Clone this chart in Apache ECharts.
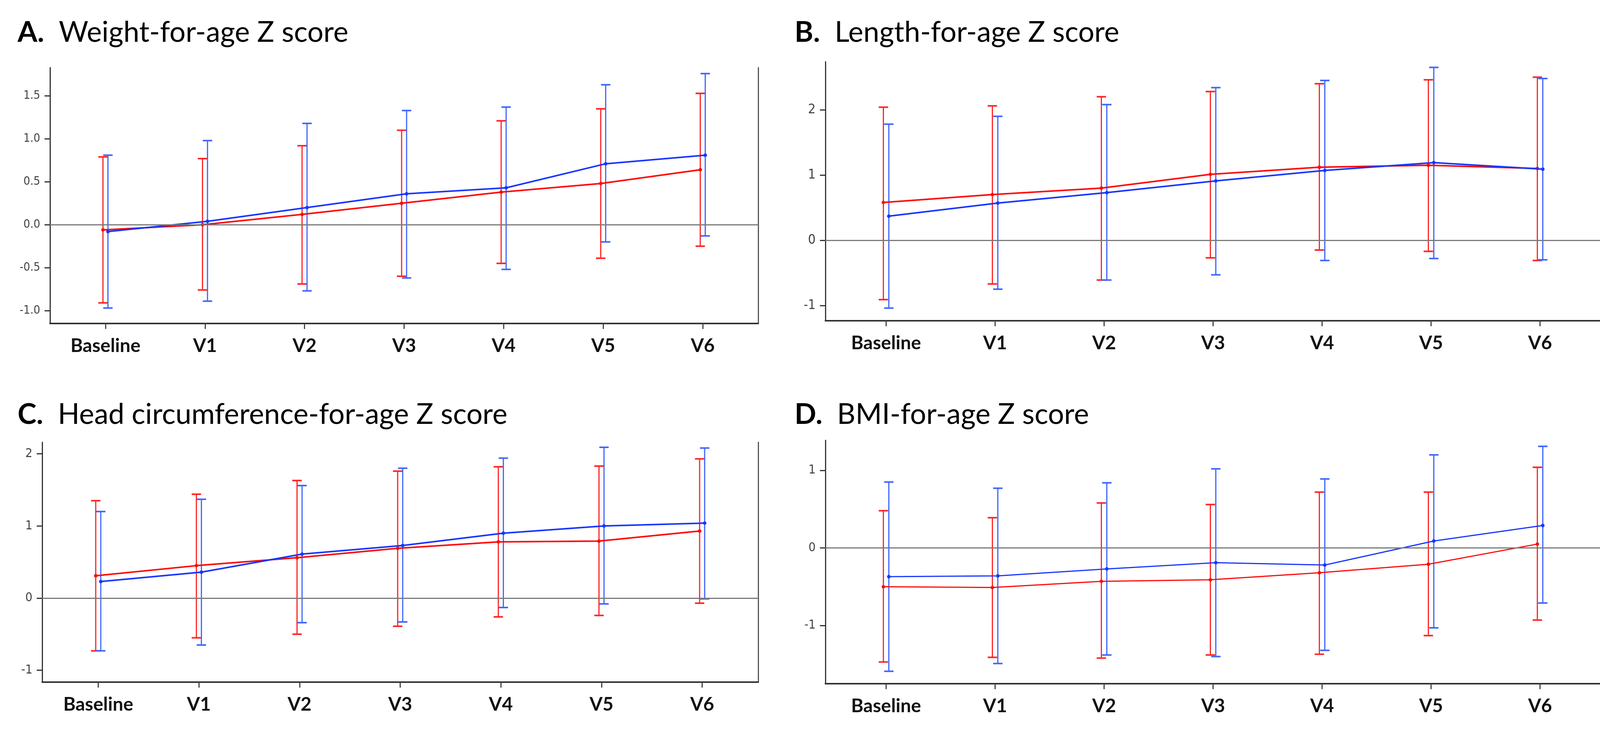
<!DOCTYPE html>
<html>
<head>
<meta charset="utf-8">
<script src="https://cdn.jsdelivr.net/npm/echarts@6/dist/echarts.min.js"></script>
<style>
html,body{margin:0;padding:0;background:#fff;}
#chart{width:4146px;height:1889px;}
</style>
</head>
<body>
<div id="chart"></div>
<script>
// ---------- data ----------
const categories = ['Baseline', 'V1', 'V2', 'V3', 'V4', 'V5', 'V6'];

// A. Weight-for-age Z score
const aRedMean  = [-0.06, 0.00, 0.12, 0.25, 0.38, 0.48, 0.64];
const aRedLow   = [-0.91, -0.76, -0.69, -0.60, -0.45, -0.39, -0.25];
const aRedHigh  = [0.79, 0.77, 0.92, 1.10, 1.21, 1.35, 1.53];
const aBlueMean = [-0.08, 0.04, 0.20, 0.36, 0.43, 0.71, 0.81];
const aBlueLow  = [-0.97, -0.89, -0.77, -0.62, -0.52, -0.20, -0.13];
const aBlueHigh = [0.81, 0.98, 1.18, 1.33, 1.37, 1.63, 1.76];
const aTicks    = [-1, -0.5, 0, 0.5, 1, 1.5];

// B. Length-for-age Z score
const bRedMean  = [0.58, 0.70, 0.80, 1.01, 1.12, 1.15, 1.10];
const bRedLow   = [-0.91, -0.67, -0.61, -0.27, -0.15, -0.17, -0.31];
const bRedHigh  = [2.04, 2.06, 2.20, 2.28, 2.40, 2.46, 2.50];
const bBlueMean = [0.37, 0.57, 0.73, 0.91, 1.07, 1.19, 1.09];
const bBlueLow  = [-1.04, -0.75, -0.61, -0.53, -0.31, -0.28, -0.30];
const bBlueHigh = [1.78, 1.90, 2.08, 2.34, 2.45, 2.65, 2.48];
const bTicks    = [-1, 0, 1, 2];

// C. Head circumference-for-age Z score
const cRedMean  = [0.31, 0.45, 0.56, 0.69, 0.78, 0.79, 0.93];
const cRedLow   = [-0.73, -0.55, -0.50, -0.39, -0.26, -0.24, -0.07];
const cRedHigh  = [1.35, 1.44, 1.63, 1.76, 1.82, 1.83, 1.93];
const cBlueMean = [0.23, 0.36, 0.61, 0.73, 0.90, 1.00, 1.04];
const cBlueLow  = [-0.73, -0.65, -0.34, -0.33, -0.13, -0.08, -0.01];
const cBlueHigh = [1.20, 1.37, 1.56, 1.80, 1.94, 2.09, 2.08];
const cTicks    = [-1, 0, 1, 2];

// D. BMI-for-age Z score
const dRedMean  = [-0.50, -0.51, -0.43, -0.41, -0.32, -0.21, 0.05];
const dRedLow   = [-1.47, -1.41, -1.42, -1.38, -1.37, -1.13, -0.93];
const dRedHigh  = [0.48, 0.39, 0.58, 0.56, 0.72, 0.72, 1.04];
const dBlueMean = [-0.37, -0.36, -0.27, -0.19, -0.22, 0.09, 0.29];
const dBlueLow  = [-1.59, -1.49, -1.38, -1.40, -1.32, -1.03, -0.71];
const dBlueHigh = [0.85, 0.77, 0.84, 1.02, 0.89, 1.20, 1.31];
const dTicks    = [-1, 0, 1];

const titles = [
  ['A.', 'Weight-for-age Z score'],
  ['B.', 'Length-for-age Z score'],
  ['C.', 'Head circumference-for-age Z score'],
  ['D.', 'BMI-for-age Z score']
];

// ---------- layout / style ----------
const RED_BAR = '#ff2424', RED_LINE = '#ff0a0a';
const BLUE_BAR = '#3f66ff', BLUE_LINE = '#1836ff';
const DODGE = 0.025;
const XMIN = -0.557, XMAX = 6.557;
const NARROW = "'Liberation Sans Narrow','DejaVu Sans Condensed',sans-serif";
const TITLE_FONT = "Lato, 'Open Sans', sans-serif";

const panels = [
  {grid: {left: 128, top: 173, width: 1813, height: 655}, yMin: -1.15, yMax: 1.83, ticks: aTicks, dec: 1,
   rm: aRedMean, rl: aRedLow, rh: aRedHigh, bm: aBlueMean, bl: aBlueLow, bh: aBlueHigh, lw: 4,
   title: {left: 40, top: 42}, yFont: 30},
  {grid: {left: 2113, top: 158, width: 1985, height: 663}, yMin: -1.234, yMax: 2.737, ticks: bTicks, dec: 0,
   rm: bRedMean, rl: bRedLow, rh: bRedHigh, bm: bBlueMean, bl: bBlueLow, bh: bBlueHigh, lw: 4,
   title: {left: 2029, top: 42}, yFont: 34},
  {grid: {left: 108, top: 1132, width: 1833, height: 614}, yMin: -1.164, yMax: 2.16, ticks: cTicks, dec: 0,
   rm: cRedMean, rl: cRedLow, rh: cRedHigh, bm: cBlueMean, bl: cBlueLow, bh: cBlueHigh, lw: 4,
   title: {left: 40, top: 1020}, yFont: 32},
  {grid: {left: 2113, top: 1127, width: 1985, height: 623}, yMin: -1.75, yMax: 1.388, ticks: dTicks, dec: 0,
   rm: dRedMean, rl: dRedLow, rh: dRedHigh, bm: dBlueMean, bl: dBlueLow, bh: dBlueHigh, lw: 3,
   title: {left: 2029, top: 1020}, yFont: 32}
];

function errRender(color, lw) {
  return function (params, api) {
    const x = api.value(0);
    const pLo = api.coord([x, api.value(1)]);
    const pHi = api.coord([x, api.value(2)]);
    const cap = 12;
    return {
      type: 'group',
      children: [
        {type: 'line', shape: {x1: pLo[0], y1: pLo[1], x2: pHi[0], y2: pHi[1]}, style: {stroke: color, lineWidth: lw}},
        {type: 'line', shape: {x1: pLo[0] - cap, y1: pLo[1], x2: pLo[0] + cap, y2: pLo[1]}, style: {stroke: color, lineWidth: lw + 1}},
        {type: 'line', shape: {x1: pHi[0] - cap, y1: pHi[1], x2: pHi[0] + cap, y2: pHi[1]}, style: {stroke: color, lineWidth: lw + 1}}
      ]
    };
  };
}

const option = {
  animation: false,
  backgroundColor: '#ffffff',
  title: [], grid: [], xAxis: [], yAxis: [], series: []
};

panels.forEach((p, k) => {
  option.title.push({
    left: p.title.left, top: p.title.top,
    text: '{b|' + titles[k][0] + '}{t|  ' + titles[k][1] + '}',
    textStyle: {
      rich: {
        b: {fontFamily: TITLE_FONT, fontWeight: 'bold', fontSize: 73, color: '#000'},
        t: {fontFamily: TITLE_FONT, fontWeight: 'normal', fontSize: 73, color: '#000'}
      }
    }
  });
  option.grid.push(Object.assign({show: false, containLabel: false, outerBoundsMode: 'none'}, p.grid));
  const xIdx = option.xAxis.length;
  option.xAxis.push({
    type: 'value', gridIndex: k, min: XMIN, max: XMAX,
    splitLine: {show: false},
    axisLine: {show: true, onZero: false, lineStyle: {color: '#333', width: 4}},
    axisTick: {show: true, customValues: categories.map((c, i) => i), length: 14, lineStyle: {color: '#444', width: 3}},
    axisLabel: {
      show: true, customValues: categories.map((c, i) => i), margin: 34,
      formatter: v => categories[Math.round(v)],
      fontFamily: TITLE_FONT, fontWeight: 'bold', fontSize: 48, color: '#111'
    }
  });
  const yIdx = option.yAxis.length;
  option.yAxis.push({
    type: 'value', gridIndex: k, min: p.yMin, max: p.yMax,
    splitLine: {show: false},
    axisLine: {show: true, onZero: false, lineStyle: {color: '#333', width: 3}},
    axisTick: {show: true, customValues: p.ticks, length: 14, lineStyle: {color: '#333', width: 3}},
    axisLabel: {
      show: true, customValues: p.ticks, margin: 25,
      formatter: v => v.toFixed(p.dec),
      fontFamily: NARROW, fontSize: p.yFont, color: '#444'
    }
  });
  // right border
  option.yAxis.push({
    type: 'value', gridIndex: k, position: 'right', min: 0, max: 1,
    splitLine: {show: false}, axisTick: {show: false}, axisLabel: {show: false},
    axisLine: {show: true, onZero: false, lineStyle: {color: '#555', width: 3}}
  });

  const xs = categories.map((c, i) => i);
  option.series.push({
    type: 'custom', xAxisIndex: xIdx, yAxisIndex: yIdx, z: 2,
    renderItem: errRender(RED_BAR, 3), encode: {x: 0, y: [1, 2]},
    data: xs.map(i => [i - DODGE, p.rl[i], p.rh[i]]),
    markLine: {
      silent: true, symbol: 'none', label: {show: false},
      lineStyle: {color: '#7a7a7a', width: 3, type: 'solid'},
      data: [{yAxis: 0}]
    }
  });
  option.series.push({
    type: 'custom', xAxisIndex: xIdx, yAxisIndex: yIdx, z: 2,
    renderItem: errRender(BLUE_BAR, 3), encode: {x: 0, y: [1, 2]},
    data: xs.map(i => [i + DODGE, p.bl[i], p.bh[i]])
  });
  option.series.push({
    type: 'line', xAxisIndex: xIdx, yAxisIndex: yIdx, z: 3,
    symbol: 'circle', symbolSize: 9,
    itemStyle: {color: RED_LINE}, lineStyle: {color: RED_LINE, width: p.lw},
    data: xs.map(i => [i - DODGE, p.rm[i]])
  });
  option.series.push({
    type: 'line', xAxisIndex: xIdx, yAxisIndex: yIdx, z: 4,
    symbol: 'circle', symbolSize: 9,
    itemStyle: {color: BLUE_LINE}, lineStyle: {color: BLUE_LINE, width: p.lw},
    data: xs.map(i => [i + DODGE, p.bm[i]])
  });
});

const chart = echarts.init(document.getElementById('chart'), null, {renderer: 'canvas'});
chart.setOption(option);
</script>
</body>
</html>
